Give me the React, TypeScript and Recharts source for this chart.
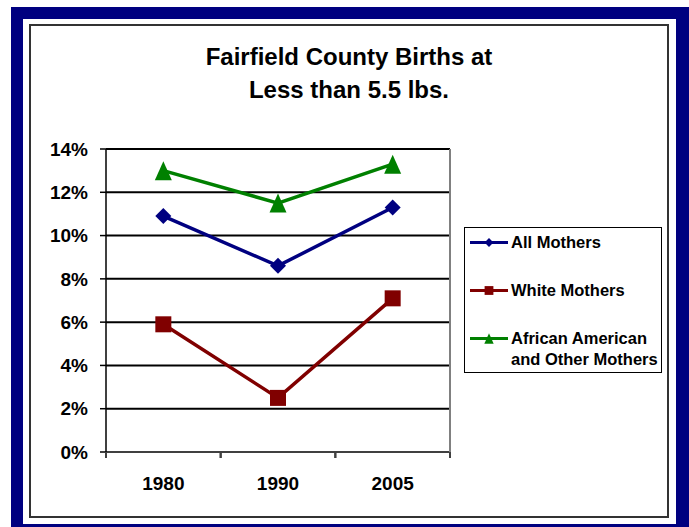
import { LineChart, Line, XAxis, YAxis, CartesianGrid, Legend } from 'recharts';

// Fairfield County births < 5.5 lbs, percent of births
const years = ['1980', '1990', '2005'];
const allMothers = [10.9, 8.6, 11.3];
const whiteMothers = [5.9, 2.5, 7.1];
const africanAmericanOther = [13.0, 11.5, 13.3];
const yTicks = [0, 2, 4, 6, 8, 10, 12, 14];

const titleLines = ['Fairfield County Births at', 'Less than 5.5 lbs.'];

const seriesDefs = [
  { key: 'all', name: 'All Mothers', color: '#000080', marker: 'diamond' },
  { key: 'white', name: 'White Mothers', color: '#800000', marker: 'square' },
  { key: 'aa', name: 'African American and Other Mothers', color: '#008000', marker: 'triangle' },
];

const data = years.map((year, i) => ({
  year,
  all: allMothers[i],
  white: whiteMothers[i],
  aa: africanAmericanOther[i],
}));

const FONT = '"Liberation Sans", Arial, sans-serif';

function Marker({ kind, cx, cy, color, s = 1 }: { kind: string; cx: number; cy: number; color: string; s?: number }) {
  if (kind === 'diamond') {
    const r = 8 * s;
    return <polygon points={`${cx},${cy - r} ${cx + r},${cy} ${cx},${cy + r} ${cx - r},${cy}`} fill={color} />;
  }
  if (kind === 'square') {
    const h = 8 * s;
    return <rect x={cx - h} y={cy - h} width={h * 2} height={h * 2} fill={color} />;
  }
  const w = 8.5 * s;
  const h = 9.5 * s;
  return <polygon points={`${cx},${cy - h} ${cx + w},${cy + h} ${cx - w},${cy + h}`} fill={color} />;
}

function makeDot(kind: string, color: string) {
  return (props: any) => {
    const { cx, cy, index } = props;
    if (cx == null || cy == null) return <g key={index} />;
    return (
      <g key={`${kind}-${index}`}>
        <Marker kind={kind} cx={cx} cy={cy} color={color} />
      </g>
    );
  };
}

function YearTick(props: any) {
  const { x, y, payload } = props;
  const half = payload && payload.offset ? payload.offset : 57.3;
  return (
    <g>
      <line x1={x - half} y1={y} x2={x - half} y2={y + 6} stroke="#404040" strokeWidth={2} />
      <line x1={x + half} y1={y} x2={x + half} y2={y + 6} stroke="#404040" strokeWidth={2} />
      <text x={x} y={y + 38} textAnchor="middle" fontFamily={FONT} fontWeight="bold" fontSize={19} fill="#000">
        {payload.value}
      </text>
    </g>
  );
}

function LegendBox() {
  return (
    <div
      style={{
        position: 'relative',
        width: 198,
        height: 146,
        border: '1px solid #000',
        boxSizing: 'border-box',
        background: '#fff',
        fontFamily: FONT,
        fontWeight: 'bold',
        fontSize: 16.5,
        color: '#000',
      }}
    >
      {seriesDefs.map((s, i) => (
        <div key={s.key} style={{ position: 'absolute', left: 4, top: 4 + i * 48, display: 'flex' }}>
          <svg width={42} height={21} style={{ flex: 'none' }}>
            <line x1={1} y1={10.5} x2={39} y2={10.5} stroke={s.color} strokeWidth={3} />
            <Marker kind={s.marker} cx={20} cy={10.5} color={s.color} s={0.55} />
          </svg>
          <div style={{ lineHeight: '21px', width: 150 }}>{s.name}</div>
        </div>
      ))}
    </div>
  );
}

export default function App() {
  return (
    <div style={{ position: 'absolute', left: 0, top: 0, width: 689, height: 527, background: '#fff', overflow: 'hidden' }}>
      <div style={{ position: 'absolute', left: 11, top: 7, width: 678, height: 520, background: '#000080' }} />
      <div style={{ position: 'absolute', left: 23, top: 19, width: 653, height: 505, background: '#fff' }} />
      <div
        style={{
          position: 'absolute',
          left: 29,
          top: 24,
          width: 640,
          height: 494,
          border: '2px solid #333',
          boxSizing: 'border-box',
        }}
      />
      <div
        style={{
          position: 'absolute',
          left: 29,
          top: 40,
          width: 640,
          textAlign: 'center',
          fontFamily: FONT,
          fontWeight: 'bold',
          fontSize: 24,
          lineHeight: '33px',
          color: '#000',
        }}
      >
        {titleLines.map((t) => (
          <div key={t}>{t}</div>
        ))}
      </div>
      <div style={{ position: 'absolute', left: 0, top: 0 }}>
        <LineChart width={689} height={527} data={data} margin={{ top: 149, right: 238, bottom: 45, left: 46 }}>
          <CartesianGrid vertical={false} stroke="#000" strokeWidth={2} />
          <XAxis
            dataKey="year"
            scale="band"
            axisLine={{ stroke: '#404040', strokeWidth: 2 }}
            tickLine={false}
            tickSize={0}
            tickMargin={0}
            height={30}
            tick={<YearTick />}
            interval={0}
          />
          <YAxis
            domain={[0, 14]}
            ticks={yTicks}
            width={60}
            axisLine={{ stroke: '#000', strokeWidth: 1.5 }}
            tickLine={{ stroke: '#000', strokeWidth: 1.5 }}
            tickSize={6}
            tickMargin={12}
            tickFormatter={(v: number) => `${v}%`}
            tick={{ fontFamily: FONT, fontWeight: 'bold', fontSize: 19, fill: '#000' }}
          />
          <YAxis
            yAxisId="frame"
            orientation="right"
            domain={[0, 14]}
            ticks={yTicks}
            width={1}
            tick={false}
            tickLine={false}
            axisLine={{ stroke: '#808080', strokeWidth: 2 }}
          />
          <Legend
            layout="vertical"
            align="center"
            verticalAlign="middle"
            wrapperStyle={{ left: 464, top: 227, width: 198, height: 146 }}
            content={() => <LegendBox />}
          />
          {seriesDefs.map((s) => (
            <Line
              key={s.key}
              type="linear"
              dataKey={s.key}
              name={s.name}
              stroke={s.color}
              strokeWidth={3.5}
              dot={makeDot(s.marker, s.color)}
              activeDot={false}
              isAnimationActive={false}
            />
          ))}
        </LineChart>
      </div>
    </div>
  );
}
